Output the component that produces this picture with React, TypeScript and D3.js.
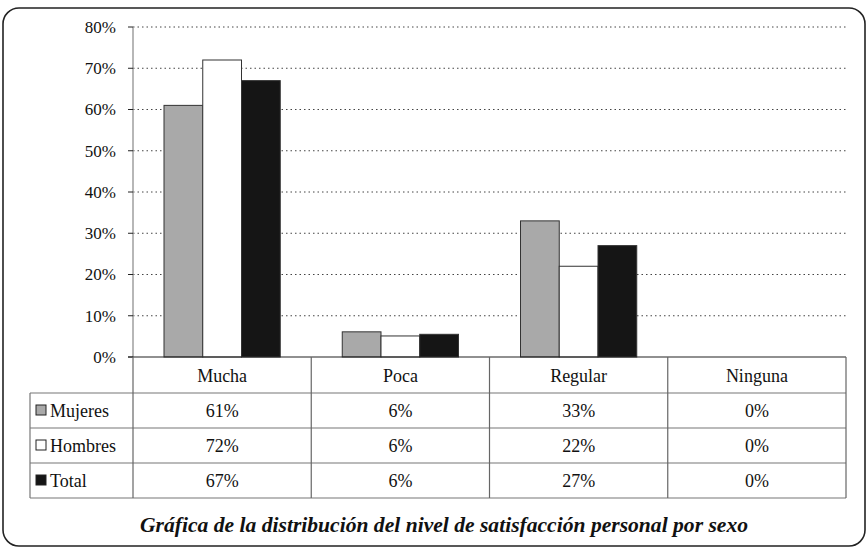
import React from "react";
import * as d3 from "d3";

const categories = ["Mucha", "Poca", "Regular", "Ninguna"];
const seriesNames = ["Mujeres", "Hombres", "Total"];
const mujeres = [61, 6.1, 33, 0];
const hombres = [72, 5.1, 22, 0];
const total = [67, 5.5, 27, 0];
const mujeresLabels = ["61%", "6%", "33%", "0%"];
const hombresLabels = ["72%", "6%", "22%", "0%"];
const totalLabels = ["67%", "6%", "27%", "0%"];
const yTicks = [0, 10, 20, 30, 40, 50, 60, 70, 80];
const caption = "Gráfica de la distribución del nivel de satisfacción personal por sexo";

const seriesValues = [mujeres, hombres, total];
const seriesLabels = [mujeresLabels, hombresLabels, totalLabels];
const fills = ["#a9a9a9", "#ffffff", "#151515"];

export default function App() {
  const W = 868, H = 549;
  const x0 = 133, x1 = 846, yTop = 27, yBase = 357;
  const x = d3.scaleBand<string>().domain(categories).range([x0, x1]).padding(0);
  const xs = d3.scaleBand<string>().domain(seriesNames).range([0, x.bandwidth()]).paddingInner(0).paddingOuter(0.8);
  const y = d3.scaleLinear().domain([0, 80]).range([yBase, yTop]);
  const rowH = 35;
  const headerBottom = yBase + 36;
  const tableLeft = 30;
  const serif = { fontFamily: "'Liberation Serif', Tinos, 'Times New Roman', serif" };
  const rowsY = seriesNames.map((_, i) => headerBottom + i * rowH);
  const tableBottom = headerBottom + seriesNames.length * rowH;

  return (
    <svg width={W} height={H} style={{ position: "absolute", left: 0, top: 0, background: "#fff" }}>
      <rect x={3} y={8} width={862} height={538} rx={16} ry={16} fill="#fff" stroke="#222" strokeWidth={1.6} />
      {yTicks.filter(t => t > 0).map(t => (
        <line key={"g" + t} x1={x0} x2={x1 + 2} y1={y(t)} y2={y(t)} stroke="#444" strokeWidth={1} strokeDasharray="1.5,3" />
      ))}
      <line x1={x0} x2={x0} y1={yTop} y2={yBase} stroke="#999" strokeWidth={1.4} />
      {yTicks.map(t => (
        <g key={"t" + t}>
          <line x1={x0 - 5} x2={x0} y1={y(t)} y2={y(t)} stroke="#222" strokeWidth={1} />
          <text x={116} y={y(t)} dy="0.35em" textAnchor="end" style={serif} fontSize={17} fill="#111">{t}%</text>
        </g>
      ))}
      {categories.map((c, ci) => (
        <g key={c}>
          {seriesNames.map((s, si) => {
            const v = seriesValues[si][ci];
            if (v <= 0) return null;
            return (
              <rect key={s} x={(x(c) as number) + (xs(s) as number)} y={y(v)} width={xs.bandwidth()} height={yBase - y(v)}
                fill={fills[si]} stroke="#333" strokeWidth={1} />
            );
          })}
        </g>
      ))}
      <line x1={x0 - 5} x2={x1} y1={yBase} y2={yBase} stroke="#222" strokeWidth={1.2} />
      {[headerBottom, ...rowsY.slice(1), tableBottom].map((yy, i) => (
        <line key={"h" + i} x1={tableLeft} x2={x1} y1={yy} y2={yy} stroke="#777" strokeWidth={1.2} />
      ))}
      <line x1={tableLeft} x2={tableLeft} y1={headerBottom} y2={tableBottom} stroke="#777" strokeWidth={1.2} />
      {[...categories.map(c => x(c) as number), x1].map((xx, i) => (
        <line key={"v" + i} x1={xx} x2={xx} y1={yBase} y2={tableBottom} stroke="#666" strokeWidth={1.2} />
      ))}
      {categories.map(c => (
        <text key={"c" + c} x={(x(c) as number) + x.bandwidth() / 2} y={yBase + 19} dy="0.35em" textAnchor="middle"
          style={serif} fontSize={18} fill="#111">{c}</text>
      ))}
      {seriesNames.map((s, si) => (
        <g key={"r" + s}>
          <rect x={36} y={rowsY[si] + rowH / 2 - 5.5} width={10} height={10} fill={fills[si]} stroke="#222" strokeWidth={1} />
          <text x={50} y={rowsY[si] + rowH / 2} dy="0.35em" style={serif} fontSize={18} fill="#111">{s}</text>
          {categories.map((c, ci) => (
            <text key={c} x={(x(c) as number) + x.bandwidth() / 2} y={rowsY[si] + rowH / 2} dy="0.35em" textAnchor="middle"
              style={serif} fontSize={18} fill="#111">{seriesLabels[si][ci]}</text>
          ))}
        </g>
      ))}
      <text x={444} y={532} textAnchor="middle" style={serif} fontSize={20} fontStyle="italic" fontWeight="bold"
        fill="#111" textLength={608} lengthAdjust="spacingAndGlyphs">{caption}</text>
    </svg>
  );
}
